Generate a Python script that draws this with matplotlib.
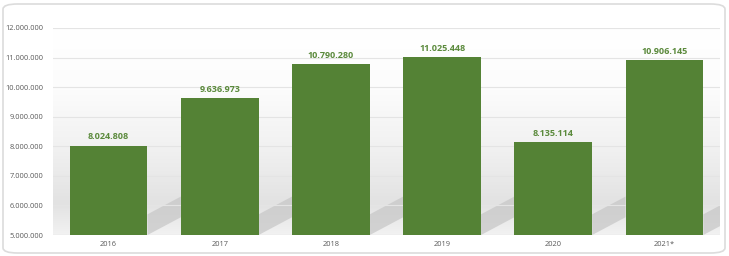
import matplotlib
matplotlib.use("Agg")
import matplotlib.pyplot as plt
import numpy as np
from matplotlib.patches import FancyBboxPatch, Polygon

categories = ["2016", "2017", "2018", "2019", "2020", "2021*"]
values = [8024808, 9636973, 10790280, 11025448, 8135114, 10906145]
labels = ["8.024.808", "9.636.973", "10.790.280", "11.025.448", "8.135.114", "10.906.145"]
yticks = [5000000, 6000000, 7000000, 8000000, 9000000, 10000000, 11000000, 12000000]

plt.rcParams["font.family"] = ["Open Sans", "DejaVu Sans"]

W, H = 729, 256
fig = plt.figure(figsize=(W / 100, H / 100), dpi=100)
fig.patch.set_facecolor("white")

# rounded frame
frame = FancyBboxPatch((3 / W, 3 / H), (W - 7) / W, (H - 7) / H,
                       boxstyle="round,pad=0,rounding_size=0.02",
                       transform=fig.transFigure, facecolor="white",
                       edgecolor="#dcdcdc", linewidth=1.2, zorder=-10)
fig.patches.append(frame)

left, right = 53 / W, 720 / W
bottom, top = 1 - 235 / H, 1 - 28 / H
ax = fig.add_axes([left, bottom, right - left, top - bottom], zorder=1)
ax.set_facecolor("none")

# background gradient in the plot area (white top -> light gray bottom)
grad = np.linspace(0, 1, 256).reshape(-1, 1)
cmap = matplotlib.colors.LinearSegmentedColormap.from_list(
    "bg", [(0, "#ffffff"), (0.3, "#fcfcfc"), (0.6, "#f0f0f0"), (0.85, "#e2e2e2"), (1.0, "#f2f2f2")])
ax.imshow(grad, cmap=cmap, aspect="auto", extent=(-0.5, 5.5, 5000000, 12000000),
          origin="upper", zorder=0, interpolation="bilinear")

x = np.arange(len(categories))
bw = 0.70
bars = ax.bar(x, values, width=bw, color="#548235", zorder=3)

# soft floor shadows behind bars
for xi in x:
    sh = Polygon([(xi + bw / 2, 5000000), (xi + bw / 2, 5700000),
                  (xi + bw / 2 + 0.30, 6300000), (xi + bw / 2 + 0.30, 5600000)],
                 closed=True, facecolor="#c8c8c8", edgecolor="none", alpha=0.75, zorder=1)
    ax.add_patch(sh)

for b, lab in zip(bars, labels):
    ax.annotate(lab, (b.get_x() + b.get_width() / 2, b.get_height()),
                xytext=(0, 3), textcoords="offset points",
                ha="center", va="bottom", fontsize=6.5, fontweight="bold",
                color="#5b8a3c", zorder=4)

ax.set_xlim(-0.5, 5.5)
ax.set_ylim(5000000, 12000000)
ax.set_yticks(yticks)
ax.set_yticklabels([f"{v:,}".replace(",", ".") for v in yticks], fontsize=5.4, color="#595959")
ax.set_xticks(x)
ax.set_xticklabels(categories, fontsize=5.4, color="#595959")
ax.tick_params(axis="y", length=0, pad=7)
ax.tick_params(axis="x", length=0, pad=4)
ax.grid(axis="y", color="#e4e4e4", linewidth=0.8, zorder=0.5)
for s in ax.spines.values():
    s.set_visible(False)
ax.axhline(5000000, color="#d9d9d9", linewidth=0.8, zorder=2)

fig.savefig("out.png", dpi=100)
